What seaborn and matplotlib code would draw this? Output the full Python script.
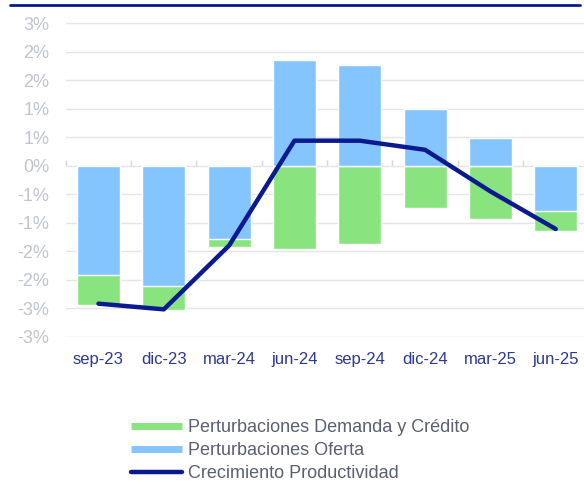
import numpy as np
import pandas as pd
import matplotlib
matplotlib.use("Agg")
import matplotlib.pyplot as plt
from matplotlib.lines import Line2D
from matplotlib.ticker import FixedLocator, FuncFormatter
import seaborn as sns

categories = ["sep-23", "dic-23", "mar-24", "jun-24", "sep-24", "dic-24", "mar-25", "jun-25"]
demanda_credito = [-0.54, -0.43, -0.15, -1.46, -1.37, -0.74, -0.94, -0.34]
oferta = [-1.91, -2.11, -1.28, 1.86, 1.77, 0.99, 0.49, -0.80]
productividad = [-2.42, -2.52, -1.40, 0.44, 0.44, 0.28, -0.45, -1.11]
y_ticks = [-3.0, -2.5, -2.0, -1.5, -1.0, -0.5, 0.0, 0.5, 1.0, 1.5, 2.0, 2.5]

GREEN = "#89E480"
BLUE = "#85C5FF"
NAVY = "#0B1A8E"

sns.set_theme(style="white")
plt.rcParams["font.family"] = ["Liberation Sans", "DejaVu Sans"]

df = pd.DataFrame({"cat": categories, "dem": demanda_credito, "ofe": oferta, "prod": productividad})
# outer (stacked) extent of demand series: stacks beyond oferta when same sign
df["dem_stack"] = [d + (o if np.sign(o) == np.sign(d) else 0.0) for d, o in zip(df["dem"], df["ofe"])]

fig = plt.figure(figsize=(5.84, 4.82), dpi=100)
ax = fig.add_axes([65.8 / 584, (482 - 336.7) / 482, 522.6 / 584, 313.4 / 482])

sns.barplot(data=df, x="cat", y="dem_stack", color=GREEN, saturation=1, width=0.66, ax=ax, zorder=2)
sns.barplot(data=df, x="cat", y="ofe", color=BLUE, saturation=1, width=0.66, ax=ax, zorder=3)
sns.lineplot(x=np.arange(len(categories)), y=df["prod"], color=NAVY, lw=3.2, ax=ax, zorder=4,
             solid_capstyle="round", solid_joinstyle="round")

ax.set_xlim(-0.5, len(categories) - 0.5)
ax.set_ylim(-3, 2.5)
ax.yaxis.set_major_locator(FixedLocator(y_ticks))

def fmt(v, pos):
    r = int(np.sign(v) * np.floor(abs(v) + 0.5))
    return f"{r}%"

ax.yaxis.set_major_formatter(FuncFormatter(fmt))
ax.grid(axis="y", color="#E3E5E8", lw=1.0, zorder=0)
ax.set_axisbelow(True)
for s in ax.spines.values():
    s.set_visible(False)
ax.set_xlabel("")
ax.set_ylabel("")
ax.tick_params(axis="y", length=0, pad=12, labelsize=13, labelcolor="#BEC5CD")
ax.tick_params(axis="x", length=0, pad=11, labelsize=12, labelcolor="#2B3990")

# zero axis with category boundary ticks
sec = ax.secondary_xaxis(3 / 5.5)
sec.set_xticks(np.arange(-0.5, len(categories), 1.0))
sec.tick_params(axis="x", direction="out", length=4, color="#D3D6DB", width=1, labelbottom=False, labeltop=False)
sec.spines["bottom"].set_color("#D3D6DB")
sec.spines["bottom"].set_linewidth(1)
sec.spines["top"].set_visible(False)

# top rule
fig.add_artist(Line2D([10 / 584, 580 / 584], [1 - 5 / 482, 1 - 5 / 482], color=NAVY, lw=2))

handles = [
    Line2D([], [], color=GREEN, lw=5, solid_capstyle="butt"),
    Line2D([], [], color=BLUE, lw=5, solid_capstyle="butt"),
    Line2D([], [], color=NAVY, lw=3.2, solid_capstyle="round"),
]
labels = ["Perturbaciones Demanda y Crédito", "Perturbaciones Oferta", "Crecimiento Productividad"]
leg = fig.legend(handles, labels, loc="upper left", bbox_to_anchor=(131 / 584, 1 - 419 / 482),
                 frameon=False, fontsize=13, handlelength=2.85, handletextpad=0.28,
                 labelspacing=0.33, borderpad=0, borderaxespad=0)
for t in leg.get_texts():
    t.set_color("#5B6070")

fig.savefig("out.png", dpi=100)
